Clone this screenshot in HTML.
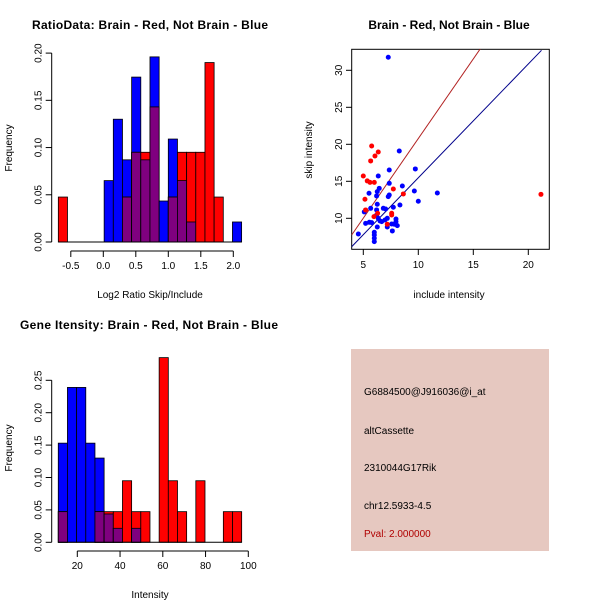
<!DOCTYPE html>
<html><head><meta charset="utf-8"><style>
body{margin:0;background:#fff}
svg{display:block;font-family:"Liberation Sans",sans-serif}
</style></head><body>
<svg id="c" width="600" height="600" viewBox="0 0 600 600">
<rect width="600" height="600" fill="#fff"/>
<text x="150" y="29" text-anchor="middle" font-size="12" font-weight="bold" textLength="236">RatioData: Brain - Red, Not Brain - Blue</text>
<text x="449" y="29" text-anchor="middle" font-size="12" font-weight="bold">Brain - Red, Not Brain - Blue</text>
<text x="149" y="329" text-anchor="middle" font-size="12" font-weight="bold" textLength="258">Gene Itensity: Brain - Red, Not Brain - Blue</text>
<text x="150" y="298" text-anchor="middle" font-size="10">Log2 Ratio Skip/Include</text>
<text x="12" y="148" text-anchor="middle" font-size="10" transform="rotate(-90 12 148)">Frequency</text>
<text x="449" y="298" text-anchor="middle" font-size="10">include intensity</text>
<text x="312" y="150" text-anchor="middle" font-size="10" transform="rotate(-90 312 150)">skip intensity</text>
<text x="150" y="598" text-anchor="middle" font-size="10">Intensity</text>
<text x="12" y="448" text-anchor="middle" font-size="10" transform="rotate(-90 12 448)">Frequency</text>
<g>
<rect x="351" y="349" width="198" height="202" fill="#e6c8c0"/>
<text x="364" y="395" font-size="10">G6884500@J916036@i_at</text>
<text x="364" y="434" font-size="10">altCassette</text>
<text x="364" y="471" font-size="10">2310044G17Rik</text>
<text x="364" y="509" font-size="10">chr12.5933-4.5</text>
<text x="364" y="537" font-size="10" fill="#b00000">Pval: 2.000000</text>
</g>
</svg>
<script>
// Ratio histogram data (20 bins starting at -0.692, width 0.141)
const ratioBinStart = -0.692, ratioBinWidth = 0.141;
const ratioBlue = [0,0,0,0,0,0.065,0.130,0.087,0.1746,0.087,0.196,0.0434,0.109,0.065,0.0212,0,0,0,0,0.0212];
const ratioRed  = [0.0476,0,0,0,0,0,0,0.0476,0.095,0.095,0.143,0,0.0476,0.095,0.095,0.095,0.19,0.0476,0,0];
const ratioXTicks = [-0.5,0,0.5,1,1.5,2];
const ratioXTickLabels = ["-0.5","0.0","0.5","1.0","1.5","2.0"];
const ratioYTicks = [0,0.05,0.10,0.15,0.20];
const ratioYTickLabels = ["0.00","0.05","0.10","0.15","0.20"];
// Intensity histogram data (20 bins starting at 11.1, width 4.29)
const intBinStart = 11.1, intBinWidth = 4.29;
const intBlue = [0.153,0.239,0.239,0.153,0.130,0.0437,0.0216,0,0.0216,0,0,0,0,0,0,0,0,0,0,0];
const intRed  = [0.0473,0,0,0,0.0473,0.0473,0.0473,0.095,0.0473,0.0473,0,0.285,0.095,0.0473,0,0.095,0,0,0.0473,0.0473];
const intXTicks = [20,40,60,80,100];
const intYTicks = [0,0.05,0.10,0.15,0.20,0.25];
const intYTickLabels = ["0.00","0.05","0.10","0.15","0.20","0.25"];
// Scatter data
const blueX = [7.27,8.27,7.36,9.73,6.36,7.36,8.55,6.45,9.64,11.73,5.52,6.27,7.36,7.27,6.21,10.0,8.33,6.27,7.73,5.67,6.82,7.03,5.09,6.21,6.21,6.36,7.18,7.97,7.97,6.67,6.52,5.55,5.21,7.58,7.82,8.09,6.27,7.18,7.64,6.0,6.0,4.55,6.0,6.0,5.76,6.97];
const blueY = [31.76,19.1,16.53,16.67,15.72,14.73,14.37,14.05,13.69,13.42,13.38,13.6,13.15,12.93,13.02,12.3,11.8,11.9,11.49,11.35,11.35,11.26,10.86,11.13,10.45,10.0,10.0,9.91,9.55,9.55,9.64,9.46,9.32,9.23,9.19,9.01,8.83,8.83,8.29,8.11,7.75,7.88,7.3,6.85,9.41,9.77];
const redX = [5.76,6.36,6.06,5.67,5.0,5.36,5.61,6.0,7.73,8.64,5.15,5.21,5.97,7.58,7.58,7.18,21.15,6.3];
const redY = [19.77,18.96,18.42,17.75,15.72,15.05,14.86,14.86,13.96,13.29,12.57,11.13,10.23,10.68,10.45,9.19,13.24,10.68];
const blueLine = [[3.94,6.16],[21.2,32.7]];
const redLine = [[3.94,7.74],[17.2,36.27]];
const scatterXTicks = [5,10,15,20];
const scatterYTicks = [10,15,20,25,30];

const NS="http://www.w3.org/2000/svg", svg=document.getElementById('c');
function mk(tag,attrs,parent){const e=document.createElementNS(NS,tag);for(const k in attrs)e.setAttribute(k,attrs[k]);(parent||svg).appendChild(e);return e;}

function histogram(name,bx0,bw,blue,red,xs,ys,xTicks,xLabels,yTicks,yLabels,yAxisX,xAxisY){
  const g=mk('g',{});
  
  
  for(let i=0;i<blue.length;i++){
    const x0=xs(bx0+i*bw), x1=xs(bx0+(i+1)*bw);
    const b=blue[i], r=red[i], m=Math.min(b,r);
    if(b>0){const e=mk('rect',{x:x0,y:ys(b),width:x1-x0,height:ys(0)-ys(b),fill:'#0000ff',stroke:'#000','stroke-width':0.8},g);
      
      }
    if(r>0){const e=mk('rect',{x:x0,y:ys(r),width:x1-x0,height:ys(0)-ys(r),fill:'#ff0000',stroke:'#000','stroke-width':0.8},g);
      
      }
    if(m>0){const e=mk('rect',{x:x0,y:ys(m),width:x1-x0,height:ys(0)-ys(m),fill:'#7f007f',stroke:'#000','stroke-width':0.8},g);
      
      }
  }
  const base=mk('line',{x1:xs(bx0),x2:xs(bx0+blue.length*bw),y1:ys(0),y2:ys(0),stroke:'#000'},g);
  
  
  const xa=mk('g',{},g);
  
  
  mk('line',{x1:xs(xTicks[0]),x2:xs(xTicks[xTicks.length-1]),y1:xAxisY,y2:xAxisY,stroke:'#000'},xa);
  xTicks.forEach((t,i)=>{mk('line',{x1:xs(t),x2:xs(t),y1:xAxisY,y2:xAxisY+6,stroke:'#000'},xa);
    const tx=mk('text',{x:xs(t),y:xAxisY+18,'text-anchor':'middle','font-size':10},xa);tx.textContent=xLabels[i];
    
    });
  const ya=mk('g',{},g);
  
  
  mk('line',{x1:yAxisX,x2:yAxisX,y1:ys(yTicks[0]),y2:ys(yTicks[yTicks.length-1]),stroke:'#000'},ya);
  yTicks.forEach((t,i)=>{mk('line',{x1:yAxisX,x2:yAxisX-6,y1:ys(t),y2:ys(t),stroke:'#000'},ya);
    const tx=mk('text',{x:yAxisX-10,y:ys(t),'text-anchor':'middle','font-size':10,transform:`rotate(-90 ${yAxisX-10} ${ys(t)})`},ya);tx.textContent=yLabels[i];
    
    });
}
histogram('ratio-histogram',ratioBinStart,ratioBinWidth,ratioBlue,ratioRed,
  v=>103.3+v*65, v=>242-v*944.5,
  ratioXTicks,ratioXTickLabels,ratioYTicks,ratioYTickLabels,51.7,251);
histogram('intensity-histogram',intBinStart,intBinWidth,intBlue,intRed,
  v=>77.3+(v-20)*2.1375, v=>542.3-v*648,
  intXTicks,intXTicks.map(String),intYTicks,intYTickLabels,51.7,551);

const sx=v=>363.3+(v-5)*11, sy=v=>218.3-(v-10)*7.4;
const sg=mk('g',{});


const frame=mk('rect',{x:351.7,y:49.3,width:197.6,height:200,fill:'none',stroke:'#000'},sg);


const clip=mk('clipPath',{id:'sc'},sg);mk('rect',{x:351.7,y:49.3,width:197.6,height:200},clip);
const bl=mk('line',{x1:sx(blueLine[0][0]),y1:sy(blueLine[0][1]),x2:sx(blueLine[1][0]),y2:sy(blueLine[1][1]),stroke:'#00008b','stroke-width':1,'clip-path':'url(#sc)'},sg);


const rl=mk('line',{x1:sx(redLine[0][0]),y1:sy(redLine[0][1]),x2:sx(redLine[1][0]),y2:sy(redLine[1][1]),stroke:'#b22222','stroke-width':1,'clip-path':'url(#sc)'},sg);


blueX.forEach((x,i)=>{const p=mk('circle',{cx:sx(x),cy:sy(blueY[i]),r:2.5,fill:'#0000ff'},sg);
  
  });
redX.forEach((x,i)=>{const p=mk('circle',{cx:sx(x),cy:sy(redY[i]),r:2.5,fill:'#ff0000'},sg);
  
  });
scatterXTicks.forEach(t=>{mk('line',{x1:sx(t),x2:sx(t),y1:249.3,y2:255,stroke:'#000'},sg);
  const tx=mk('text',{x:sx(t),y:268,'text-anchor':'middle','font-size':10},sg);tx.textContent=t;
  
  });
scatterYTicks.forEach(t=>{mk('line',{x1:351.7,x2:346,y1:sy(t),y2:sy(t),stroke:'#000'},sg);
  const tx=mk('text',{x:342,y:sy(t),'text-anchor':'middle','font-size':10,transform:`rotate(-90 342 ${sy(t)})`},sg);tx.textContent=t;
  
  });
</script>
</body></html>
